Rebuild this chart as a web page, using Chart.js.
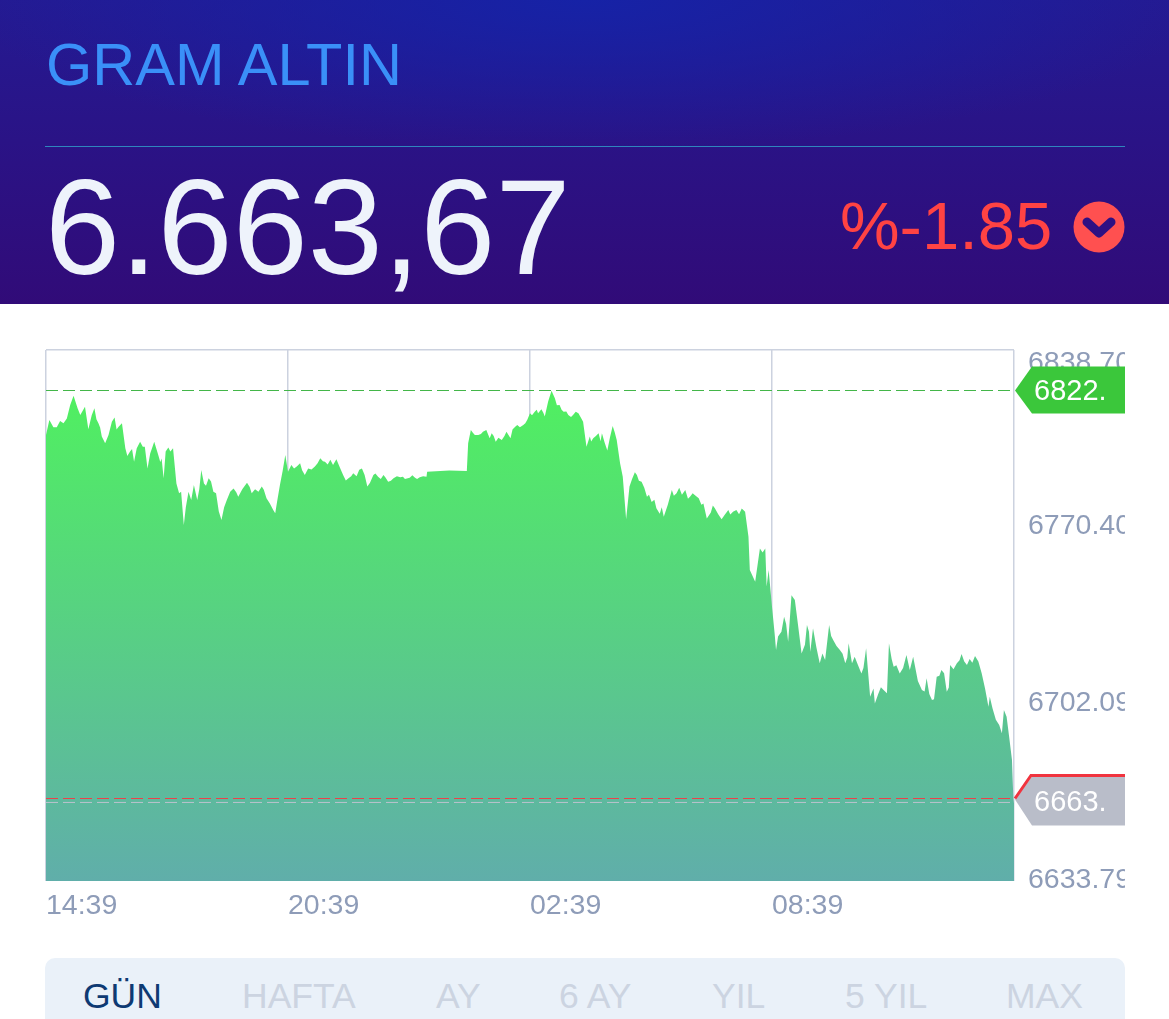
<!DOCTYPE html>
<html lang="tr">
<head>
<meta charset="utf-8">
<title>GRAM ALTIN</title>
<script src="https://cdn.jsdelivr.net/npm/chart.js@4"></script>
<style>
    html, body { margin: 0; padding: 0; background: #fff; }
    body { position: relative; width: 1169px; height: 1019px; overflow: hidden; font-family: "Liberation Sans", sans-serif; }
    #head { position: absolute; left: 0; top: 0; width: 1169px; height: 304px;
        background: radial-gradient(ellipse 620px 150px at 50% 0, #1622a6 0%, rgba(22,34,166,0) 100%), linear-gradient(#241a92, #310b78); }
    #name { position: absolute; left: 46px; top: 32px; font-size: 59.5px; line-height: 66px; color: #3a90f8; }
    #rule { position: absolute; left: 45px; top: 146px; width: 1080px; height: 1px; background: #2f86bd; }
    #price { position: absolute; left: 45px; top: 151px; font-size: 135px; line-height: 154px; color: #eef3fb; }
    #change { position: absolute; left: 840px; top: 188px; font-size: 67px; line-height: 76px; color: #ff4343; }
    #icon { position: absolute; left: 1073px; top: 201px; }
    #chart { position: absolute; left: 0; top: 304px; }
    #tabs { position: absolute; left: 45px; top: 958px; width: 1080px; height: 61px; background: #eaf1f9; border-radius: 10px 10px 0 0; }
    #tabs span { position: absolute; top: 18px; font-size: 35.5px; line-height: 40px; color: #ccd4e1; }
</style>
</head>
<body>
<div id="head">
    <div id="name">GRAM ALTIN</div>
    <div id="rule"></div>
    <div id="price">6.663,67</div>
    <div id="change">%-1.85</div>
    <svg id="icon" width="52" height="52" viewBox="0 0 52 52">
        <circle cx="26" cy="26" r="25.5" fill="#ff5050"/>
        <polyline points="14,21 26,32 38,21" fill="none" stroke="#2e1083" stroke-width="9" stroke-linejoin="round" stroke-linecap="round"/>
    </svg>
</div>
<canvas id="chart" width="1125" height="646"></canvas>
<div id="tabs"></div>
<script>
// minutes after 14:39 and the price at that moment
const minutes = [
    0, 5, 11, 16, 21, 26, 31, 36, 41, 47, 51, 58, 63, 72, 78, 83, 88, 93, 98, 102,
    108, 113, 118, 125, 131, 135, 140, 144, 147, 151, 155, 161, 167, 175, 178, 182, 185, 189, 194, 198,
    201, 205, 212, 216, 220, 225, 231, 235, 242, 249, 253, 261, 269, 279, 286, 299, 306, 321, 328, 333,
    341, 348, 356, 360, 365, 373, 378, 385, 390, 400, 408, 415, 423, 427, 432, 442, 450, 457, 470, 478,
    487, 494, 502, 509, 517, 527, 534, 541, 549, 556, 566, 567, 626, 628, 632, 638, 643, 650, 655, 660,
    663, 669, 678, 685, 691, 698, 701, 705, 713, 720, 727, 732, 737, 742, 747, 752, 757, 764, 770, 777,
    784, 792, 799, 804, 809, 814, 822, 827, 835, 843, 849, 854, 858, 863, 868, 879, 886, 894, 908, 919,
    931, 938, 951, 958, 965, 978, 983, 995, 1005, 1015, 1022, 1027, 1040, 1045, 1047, 1055, 1062, 1070, 1072, 1075,
    1080, 1086, 1089, 1098, 1104, 1109, 1114, 1124, 1132, 1137, 1141, 1151, 1155, 1159, 1165, 1171, 1181, 1189, 1194, 1199,
    1203, 1213, 1220, 1226, 1231, 1233, 1246, 1251, 1254, 1261, 1270, 1280, 1285, 1290, 1303, 1310, 1318, 1325, 1332, 1340,
    1345, 1355, 1362, 1370, 1382, 1392, 1402, 1404, 1422, 1425, 1429, 1437, 1439, 1440
];
const prices = [
    6805.9, 6811.7, 6808.9, 6808.9, 6811.3, 6810.4, 6812.3, 6817.5, 6821.0, 6816.2, 6813.6, 6816.8, 6808.1, 6816.2, 6810.4, 6805.3, 6802.7, 6805.9, 6811.0, 6812.7,
    6809.1, 6810.4, 6800.8, 6799.5, 6795.6, 6800.8, 6803.3, 6801.4, 6801.4, 6793.0, 6798.8, 6803.3, 6798.2, 6789.2, 6799.5, 6801.1, 6799.5, 6800.8, 6787.2, 6783.4,
    6784.0, 6771.2, 6784.0, 6780.8, 6786.6, 6780.8, 6792.4, 6787.2, 6789.2, 6784.0, 6783.4, 6773.1, 6780.8, 6785.3, 6782.1, 6787.5, 6783.4, 6786.0, 6781.5, 6779.5,
    6775.7, 6786.6, 6798.2, 6791.7, 6794.3, 6793.7, 6795.0, 6790.5, 6793.0, 6793.7, 6796.9, 6795.6, 6796.3, 6794.3, 6796.5, 6790.5, 6789.2, 6791.1, 6793.0, 6786.0,
    6790.5, 6789.8, 6790.5, 6787.9, 6789.2, 6789.6, 6788.9, 6789.4, 6789.4, 6789.6, 6789.8, 6791.7, 6792.0, 6802.7, 6807.8, 6805.9, 6805.9, 6807.2, 6807.8, 6804.6,
    6806.6, 6803.3, 6804.0, 6807.2, 6804.6, 6809.1, 6809.8, 6808.9, 6810.4, 6814.3, 6814.9, 6814.3, 6815.8, 6813.0, 6818.8, 6823.0, 6820.1, 6817.5, 6814.9, 6813.6,
    6813.6, 6814.3, 6811.0, 6801.4, 6805.3, 6804.6, 6806.6, 6806.6, 6799.9, 6809.4, 6804.0, 6795.0, 6789.8, 6773.4, 6786.0, 6790.5, 6787.9, 6782.1, 6777.6, 6774.4,
    6784.7, 6783.4, 6784.7, 6782.1, 6782.7, 6779.5, 6773.7, 6777.6, 6773.4, 6777.0, 6776.3, 6777.0, 6776.3, 6766.6, 6753.8, 6749.3, 6762.1, 6762.1, 6747.4, 6753.8,
    6739.6, 6722.9, 6728.1, 6735.8, 6726.1, 6744.1, 6742.2, 6721.6, 6732.6, 6722.3, 6731.3, 6717.8, 6721.6, 6719.1, 6732.6, 6726.8, 6722.9, 6717.8, 6725.5, 6717.8,
    6720.3, 6713.9, 6723.6, 6704.9, 6708.1, 6702.3, 6707.5, 6706.2, 6725.5, 6716.5, 6713.9, 6721.0, 6715.2, 6720.3, 6707.5, 6712.0, 6703.6, 6712.6, 6715.2, 6706.8,
    6717.1, 6717.8, 6721.4, 6717.1, 6720.6, 6713.9, 6701.0, 6704.9, 6690.8, 6699.8, 6697.2, 6680.5, 6665.7, 6663.67
];
// smaller teeth of the same line, read the same way
const minutesFine = [
    68, 75, 80.5, 105, 121, 128, 170, 172, 208, 228, 238, 245.5, 257, 265, 274, 283, 292, 303, 311, 316,
    324, 338, 344, 352, 369, 381, 395, 404, 412, 419, 437, 446, 454, 462, 466, 474, 482, 490, 498, 505,
    513, 522, 531, 545, 552, 561, 580, 600, 635, 647, 666, 673, 682, 694, 710, 716, 723, 730, 740, 760,
    767, 774, 781, 788, 796, 811, 818, 825, 831, 839, 846, 872, 876, 882, 890, 897, 901, 905, 913, 916,
    925, 934, 942, 946, 955, 962, 971, 975, 989, 992, 1000, 1010, 1018, 1031, 1035, 1066, 1084, 1094, 1101, 1106,
    1119, 1129, 1135, 1146, 1168, 1176, 1185, 1192, 1208, 1216, 1238, 1242, 1258, 1265, 1275, 1297, 1307, 1314, 1321, 1329,
    1336, 1343, 1350, 1359, 1366, 1374, 1378, 1387, 1397, 1408, 1413, 1418, 1433
];
const pricesFine = [
    6813.5, 6812.0, 6808.8, 6808.0, 6797.8, 6800.5, 6795.5, 6796.8, 6778.0, 6785.0, 6786.3, 6788.0, 6776.5, 6778.0, 6784.0, 6783.8, 6785.0, 6785.8, 6785.0, 6784.0,
    6784.8, 6777.0, 6780.5, 6792.0, 6793.0, 6792.3, 6792.6, 6795.0, 6795.8, 6794.5, 6793.5, 6788.3, 6790.0, 6790.0, 6792.5, 6790.5, 6787.5, 6791.0, 6788.9, 6789.5,
    6788.2, 6790.0, 6789.8, 6790.4, 6788.9, 6790.0, 6791.9, 6792.2, 6806.8, 6806.3, 6805.5, 6804.8, 6805.5, 6808.0, 6809.8, 6811.8, 6813.5, 6815.6, 6814.4, 6817.4,
    6815.6, 6815.0, 6812.8, 6814.9, 6812.5, 6803.4, 6805.5, 6803.5, 6803.0, 6805.0, 6807.0, 6789.0, 6791.5, 6788.2, 6785.5, 6782.8, 6780.0, 6780.9, 6775.5, 6778.0,
    6779.0, 6782.5, 6785.5, 6782.8, 6781.3, 6783.4, 6781.5, 6779.0, 6776.0, 6778.7, 6775.3, 6775.2, 6775.2, 6775.3, 6777.5, 6760.6, 6729.0, 6730.0, 6733.0, 6733.0,
    6732.0, 6725.0, 6730.0, 6724.0, 6728.3, 6724.5, 6721.5, 6720.0, 6717.0, 6716.0, 6706.0, 6708.6, 6719.5, 6717.0, 6716.0, 6711.0, 6706.9, 6706.0, 6703.9, 6713.0,
    6714.0, 6708.5, 6715.5, 6719.0, 6718.5, 6719.5, 6718.0, 6718.5, 6708.0, 6700.5, 6696.0, 6694.0, 6689.0
];
const xTicks = [0, 360, 720, 1080, 1440];
const xLabels = ["14:39", "20:39", "02:39", "08:39", ""];
const yTicks = [6633.79, 6702.09, 6770.40, 6838.70];
const highValue = 6823.07;
const redValue = 6665.62;
const lastValue = 6664.1;
const highTag = "6822.";
const lastTag = "6663.";
const tabNames = ["GÜN", "HAFTA", "AY", "6 AY", "YIL", "5 YIL", "MAX"];
const tabLeft = [38, 197, 391, 514, 667, 800, 961];

tabNames.forEach((t, i) => {
    const s = document.createElement("span");
    s.textContent = t;
    s.style.left = tabLeft[i] + "px";
    if (i === 0) s.style.color = "#0e3a73";
    document.getElementById("tabs").appendChild(s);
});

const linePoints = minutes.map((m, i) => ({ x: m, y: prices[i] }))
    .concat(minutesFine.map((m, i) => ({ x: m, y: pricesFine[i] })))
    .sort((a, b) => a.x - b.x);

function flatLine(value, color) {
    return {
        data: [{ x: 0, y: value }, { x: 1440, y: value }],
        borderColor: color,
        borderWidth: 1,
        borderDash: [12, 5],
        pointRadius: 0,
        fill: false,
        order: 1
    };
}

function areaFill(context) {
    const area = context.chart.chartArea;
    if (!area) return "#52e66a";
    const g = context.chart.ctx.createLinearGradient(0, area.top + 40, 0, area.bottom);
    g.addColorStop(0, "#50f060");
    g.addColorStop(1, "#60aeaa");
    return g;
}

// the price tags on the right side, and the top y label that sits lower than its tick
const tagPlugin = {
    id: "tags",
    beforeDraw(chart) {
        chart.scales.y.getLabelItems(chart.chartArea).forEach(item => {
            if (item.moved) return;
            item.moved = true;
            item.options.translation[1] += item.label === yTicks[3].toFixed(2) ? 13 : -1;
        });
    },
    afterDraw(chart) {
        const ctx = chart.ctx;
        const y = chart.scales.y;
        const hy = y.getPixelForValue(highValue);
        const ry = y.getPixelForValue(redValue);

        ctx.save();
        ctx.fillStyle = "#3bc73b";
        ctx.beginPath();
        ctx.moveTo(1015, hy);
        ctx.lineTo(1032, hy - 24);
        ctx.lineTo(1125, hy - 24);
        ctx.lineTo(1125, hy + 23);
        ctx.lineTo(1032, hy + 23);
        ctx.closePath();
        ctx.fill();

        ctx.fillStyle = "#b9bdc9";
        ctx.beginPath();
        ctx.moveTo(1015, ry + 1);
        ctx.lineTo(1032, ry - 22);
        ctx.lineTo(1125, ry - 22);
        ctx.lineTo(1125, ry + 27);
        ctx.lineTo(1032, ry + 27);
        ctx.closePath();
        ctx.fill();

        ctx.strokeStyle = "#f0343f";
        ctx.lineWidth = 3;
        ctx.beginPath();
        ctx.moveTo(1015, ry);
        ctx.lineTo(1031, ry - 23);
        ctx.lineTo(1125, ry - 23);
        ctx.stroke();

        ctx.fillStyle = "#fff";
        ctx.font = "29px 'Liberation Sans'";
        ctx.textBaseline = "middle";
        ctx.fillText(highTag, 1034, hy + 1);
        ctx.fillText(lastTag, 1034, ry + 4);
        ctx.restore();
    }
};

new Chart(document.getElementById("chart"), {
    type: "line",
    data: {
        datasets: [
            flatLine(highValue, "#43b649"),
            flatLine(redValue, "#ee4048"),
            flatLine(lastValue, "#b9c2cc"),
            {
                data: linePoints,
                borderWidth: 0,
                pointRadius: 0,
                tension: 0,
                fill: "start",
                backgroundColor: areaFill,
                order: 2
            }
        ]
    },
    options: {
        responsive: false,
        animation: false,
        layout: { padding: { left: 46, top: 46, right: 0, bottom: 0 } },
        plugins: { legend: { display: false }, tooltip: { enabled: false } },
        scales: {
            x: {
                type: "linear",
                min: 0,
                max: 1440,
                afterBuildTicks: scale => { scale.ticks = xTicks.map(v => ({ value: v })); },
                afterFit: scale => { scale.height = 69; },
                border: { display: false },
                grid: { color: "#ccd2df", lineWidth: 1.5, drawTicks: false },
                ticks: {
                    align: "start",
                    autoSkip: false,
                    maxRotation: 0,
                    padding: 8,
                    color: "#8e9cb8",
                    font: { size: 28.5, family: "'Liberation Sans'" },
                    callback: v => xLabels[xTicks.indexOf(v)]
                }
            },
            y: {
                position: "right",
                min: yTicks[0],
                max: yTicks[3],
                afterBuildTicks: scale => { scale.ticks = yTicks.map(v => ({ value: v })); },
                afterFit: scale => { scale.width = 111; },
                border: { display: false },
                grid: {
                    drawTicks: false,
                    lineWidth: 1.5,
                    color: c => c.tick && c.tick.value === yTicks[3] ? "#ccd2df" : "rgba(0,0,0,0)"
                },
                ticks: {
                    autoSkip: false,
                    padding: 14,
                    color: "#8e9cb8",
                    font: { size: 28.5, family: "'Liberation Sans'" },
                    callback: v => v.toFixed(2)
                }
            }
        }
    },
    plugins: [tagPlugin]
});
</script>
</body>
</html>
